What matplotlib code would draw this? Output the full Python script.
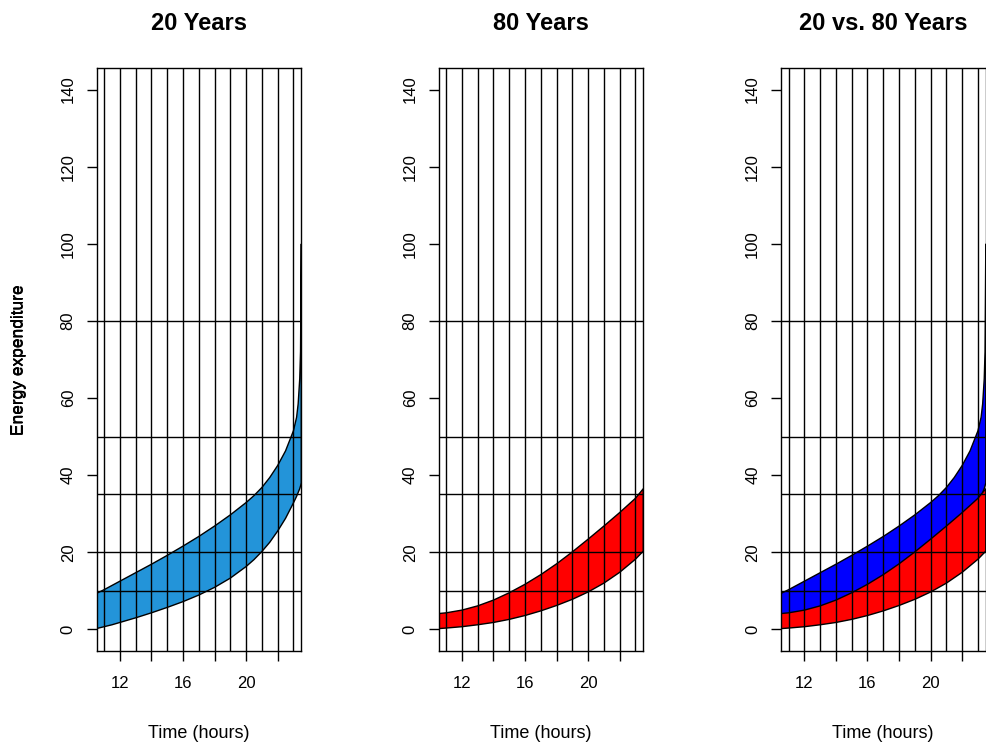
import numpy as np
import matplotlib
matplotlib.use("Agg")
import matplotlib.pyplot as plt

plt.rcParams['font.family'] = ['Liberation Sans', 'DejaVu Sans']

# Energy expenditure bands (hours of day)
hours_20 = [10.5, 11, 11.5, 12, 13, 14, 15, 16, 17, 18, 19, 20, 20.5, 21, 21.5, 22, 22.5, 23, 23.2, 23.3, 23.4, 23.45, 23.5]
upper_20 = [9.3, 10.3, 11.4, 12.5, 14.7, 16.9, 19.2, 21.6, 24.1, 26.8, 29.7, 32.9, 34.7, 36.8, 39.4, 42.5, 46.3, 51.5, 55.0, 58.5, 65.0, 72.0, 100.0]
lower_20 = [0.2, 0.7, 1.2, 1.8, 3.0, 4.3, 5.7, 7.2, 8.9, 10.9, 13.3, 16.3, 18.1, 20.2, 22.6, 25.5, 28.8, 32.8, 34.5, 35.5, 36.5, 37.2, 38.0]

hours_80 = [10.5, 11, 12, 13, 14, 15, 16, 17, 18, 19, 20, 21, 22, 23, 23.5]
upper_80 = [4.1, 4.3, 5.0, 6.1, 7.6, 9.5, 11.7, 14.2, 17.0, 20.1, 23.4, 26.8, 30.3, 34.0, 36.5]
lower_80 = [0.2, 0.35, 0.7, 1.2, 1.8, 2.6, 3.6, 4.8, 6.2, 7.8, 9.7, 12.0, 14.8, 18.2, 20.3]

titles = ["20 Years", "80 Years", "20 vs. 80 Years"]
v_lines = list(range(11, 24))
h_lines = [10, 20, 35, 50, 80]
x_ticks = [12, 14, 16, 18, 20, 22]
x_tick_labels = ["12", "", "16", "", "20", ""]
y_ticks = [0, 20, 40, 60, 80, 100, 120, 140]

light_blue = "#2394D9"

W, H = 986, 744
fig = plt.figure(figsize=(W / 100, H / 100), dpi=100)

lefts = [96.5, 438.5, 781]
ax_w, top, bottom = 204.5, 68, 651


def band(ax, x, up, lo, color):
    x = np.asarray(x)
    px = np.concatenate([x, x[::-1]])
    py = np.concatenate([up, lo[::-1]])
    ax.fill(px, py, facecolor=color, edgecolor="black", linewidth=1.0, zorder=2)


for i, left in enumerate(lefts):
    ax = fig.add_axes([left / W, 1 - bottom / H, ax_w / W, (bottom - top) / H])
    if i in (0, 2):
        band(ax, hours_20, upper_20, lower_20, light_blue if i == 0 else "#0000FF")
    if i in (1, 2):
        band(ax, hours_80, upper_80, lower_80, "#FF0000")

    for v in v_lines:
        ax.axvline(v, color="black", linewidth=1.0, zorder=3)
    for h in h_lines:
        ax.axhline(h, color="black", linewidth=1.0, zorder=3)

    ax.set_xlim(10.52, 23.48)
    ax.set_ylim(-5.6, 145.6)
    ax.set_xticks(x_ticks)
    ax.set_xticklabels(x_tick_labels)
    ax.set_yticks(y_ticks)
    ax.set_yticklabels([str(t) for t in y_ticks], rotation=90, va="center")
    ax.tick_params(direction="out", length=7, width=1.0, labelsize=12, colors="black")
    ax.tick_params(axis="x", pad=11)
    ax.tick_params(axis="y", pad=8)
    for s in ax.spines.values():
        s.set_linewidth(1.0)
        s.set_zorder(4)

    ax.text(0.5, 1 + (top - 24) / (bottom - top), titles[i], transform=ax.transAxes,
            ha="center", va="center", fontsize=17, fontweight="bold")
    ax.text(0.5, -(733 - bottom) / (bottom - top), "Time (hours)", transform=ax.transAxes,
            ha="center", va="center", fontsize=13)
    ax.text(-(left - 19) / ax_w, (bottom - 359.5) / (bottom - top), "Energy expenditure",
            transform=ax.transAxes, rotation=90, ha="center", va="center", fontsize=12.5)

fig.savefig("out.png", dpi=100)
